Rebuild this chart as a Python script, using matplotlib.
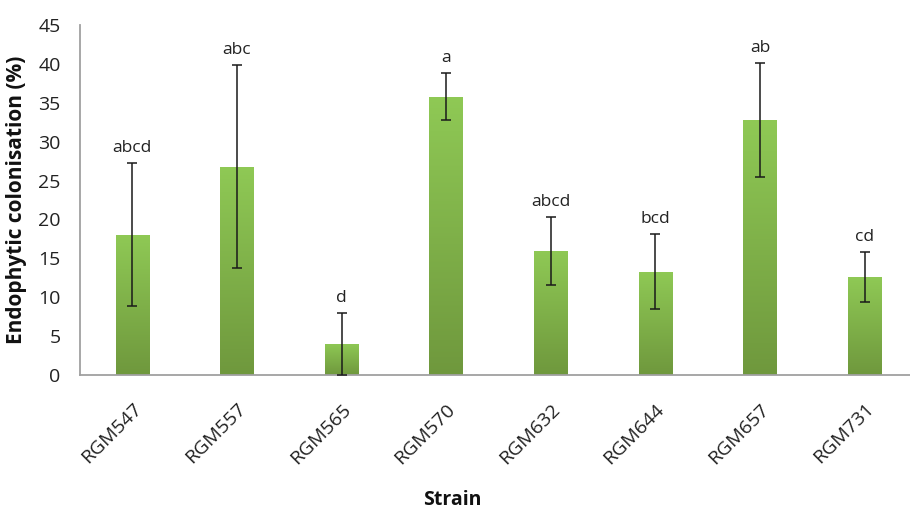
import matplotlib
matplotlib.use("Agg")
import matplotlib.pyplot as plt
import numpy as np
from matplotlib.colors import LinearSegmentedColormap

strains = ["RGM547", "RGM557", "RGM565", "RGM570", "RGM632", "RGM644", "RGM657", "RGM731"]
means = [18.05, 26.8, 4.0, 35.8, 15.95, 13.3, 32.8, 12.6]
errors = [9.15, 13.1, 4.0, 3.0, 4.4, 4.8, 7.3, 3.2]
letters = ["abcd", "abc", "d", "a", "abcd", "bcd", "ab", "cd"]
yticks = [0, 5, 10, 15, 20, 25, 30, 35, 40, 45]

plt.rcParams['font.family'] = ['Open Sans', 'DejaVu Sans']

fig = plt.figure(figsize=(9.1, 5.11), dpi=100)
ax = fig.add_axes([80/910, 1-375/511, 830/910, 350/511])

x = np.arange(len(strains))
bars = ax.bar(x, means, width=0.32, color='#80B34A', zorder=2)

cmap = LinearSegmentedColormap.from_list('g', ['#6F983D', '#8FC955'])
grad = np.linspace(0, 1, 256).reshape(-1, 1)
for b in bars:
    x0, y0 = b.get_x(), b.get_y()
    w, h = b.get_width(), b.get_height()
    im = ax.imshow(grad, extent=[x0, x0 + w, y0, y0 + h], origin='lower',
                   cmap=cmap, aspect='auto', zorder=2.5)
    im.set_clip_path(b)

ax.errorbar(x, means, yerr=errors, fmt='none', ecolor='#1a1a1a',
            elinewidth=1.1, capsize=3.5, capthick=1.1, zorder=3)

for xi, m, e, lab in zip(x, means, errors, letters):
    ax.annotate(lab, (xi, m + e), xytext=(0, 8), textcoords='offset points',
                ha='center', va='baseline', fontsize=12.5, color='#222222')

ax.set_xlim(-0.5, -0.5 + 830/104.6)
ax.set_ylim(0, 45)
ax.set_yticks(yticks)
ax.set_yticklabels([str(t) for t in yticks], fontsize=14, color='#222222')
ax.set_xticks(x)
ax.set_xticklabels(strains, rotation=45, ha='right', rotation_mode='anchor',
                   fontsize=14, color='#222222')
ax.tick_params(axis='both', length=0)
ax.tick_params(axis='y', pad=14)
ax.tick_params(axis='x', pad=18)

for s in ['top', 'right']:
    ax.spines[s].set_visible(False)
for s in ['left', 'bottom']:
    ax.spines[s].set_color('#A0A0A0')
    ax.spines[s].set_linewidth(1.3)

ax.set_ylabel("Endophytic colonisation (%)", fontsize=15, fontweight='bold',
              color='#111111', labelpad=8)
fig.text(452/910, 1-500/511, "Strain", ha='center', va='center',
         fontsize=14, fontweight='bold', color='#111111')

fig.savefig("out.png", dpi=100)
